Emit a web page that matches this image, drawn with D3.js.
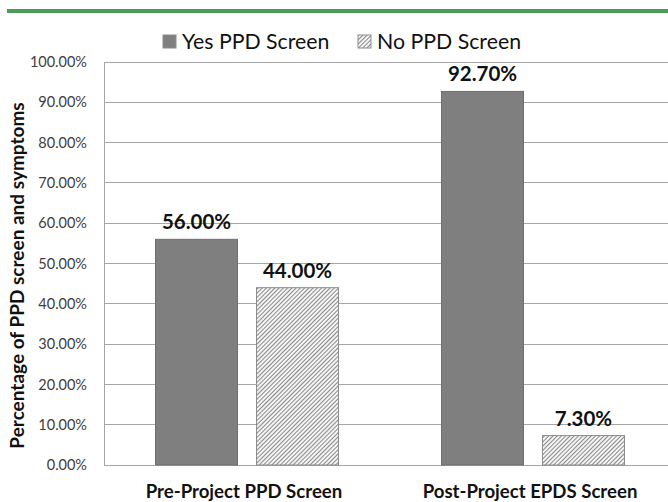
<!DOCTYPE html>
<html><head><meta charset="utf-8">
<script src="https://cdn.jsdelivr.net/npm/d3@7"></script>
<style>body{margin:0;background:#fff;}svg{display:block;font-family:Lato,"Open Sans",sans-serif;}</style>
</head><body>
<svg id="c" width="668" height="502"></svg>
<script>
const categories = ["Pre-Project PPD Screen", "Post-Project EPDS Screen"];
const seriesNames = ["Yes PPD Screen", "No PPD Screen"];
const yesValues = [56.0, 92.7];
const noValues = [44.0, 7.3];
const yTicks = [0,10,20,30,40,50,60,70,80,90,100];
const yTitle = "Percentage of PPD screen and symptoms";

const svg = d3.select("#c");
const defs = svg.append("defs");
const pat = defs.append("pattern").attr("id","hatch").attr("patternUnits","userSpaceOnUse")
  .attr("width",3).attr("height",3).attr("patternTransform","rotate(45)");
pat.append("rect").attr("width",3).attr("height",3).attr("fill","#f4f4f4");
pat.append("line").attr("x1",0.5).attr("y1",0).attr("x2",0.5).attr("y2",3).attr("stroke","#8a8a8a").attr("stroke-width",1);

// green top rule
svg.append("rect").attr("x",7).attr("y",9).attr("width",661).attr("height",4).attr("fill","#4f9a5b");

const m = {left:104, top:62, right:676, bottom:465};
const x0 = d3.scaleBand().domain(categories).range([m.left, m.right]).paddingInner(0).paddingOuter(0);
const x1 = d3.scaleBand().domain(seriesNames).range([0, x0.bandwidth()]).paddingInner(0.188).paddingOuter(0.51);
const y = d3.scaleLinear().domain([0,100]).range([m.bottom, m.top]);

// gridlines
svg.append("g").selectAll("line").data(yTicks).join("line")
  .attr("x1", m.left).attr("x2", 668).attr("y1", d=>y(d)).attr("y2", d=>y(d))
  .attr("stroke","#a6a6a6").attr("stroke-width",1).attr("shape-rendering","crispEdges");
// left axis line
svg.append("line").attr("x1",m.left).attr("x2",m.left).attr("y1",m.top).attr("y2",m.bottom)
  .attr("stroke","#a6a6a6").attr("shape-rendering","crispEdges");

// y tick labels
const yAxis = d3.axisLeft(y).tickValues(yTicks).tickSize(0).tickPadding(17).tickFormat(d=>d.toFixed(2)+"%");
const ga = svg.append("g").attr("transform",`translate(${m.left},0)`).call(yAxis);
ga.select(".domain").remove();
ga.selectAll("text").attr("font-size",14.5).attr("fill","#404040").attr("font-family","Lato,'Open Sans',sans-serif");

// y title
svg.append("text").attr("transform",`translate(24,${(m.top+m.bottom)/2 + 12}) rotate(-90)`)
  .attr("text-anchor","middle").attr("font-weight","bold").attr("font-size",19).attr("fill","#111")
  .text(yTitle);

const data = categories.map((c,i)=>({cat:c, vals:[{s:seriesNames[0],v:yesValues[i]},{s:seriesNames[1],v:noValues[i]}]}));
const g = svg.append("g").selectAll("g").data(data).join("g").attr("transform",d=>`translate(${x0(d.cat)},0)`);
g.selectAll("rect").data(d=>d.vals).join("rect")
  .attr("x",d=>x1(d.s)).attr("width",x1.bandwidth())
  .attr("y",d=>y(d.v)).attr("height",d=>y(0)-y(d.v))
  .attr("fill",d=>d.s===seriesNames[0]?"#7f7f7f":"url(#hatch)")
  .attr("stroke",d=>d.s===seriesNames[0]?"#6f6f6f":"#8c8c8c").attr("stroke-width",1);
g.selectAll("text").data(d=>d.vals).join("text")
  .attr("x",d=>x1(d.s)+x1.bandwidth()/2).attr("y",d=>y(d.v)-10)
  .attr("text-anchor","middle").attr("font-weight","bold").attr("font-size",20.5).attr("fill","#111")
  .text(d=>d.v.toFixed(2)+"%");

// category labels
svg.append("g").selectAll("text").data(categories).join("text")
  .attr("x",d=>x0(d)+x0.bandwidth()/2 - 3).attr("y",498)
  .attr("text-anchor","middle").attr("font-weight","bold").attr("font-size",18.6).attr("fill","#111")
  .text(d=>d);

// legend
const leg = [{s:seriesNames[0],x:163},{s:seriesNames[1],x:358}];
const lg = svg.append("g").selectAll("g").data(leg).join("g").attr("transform",d=>`translate(${d.x},35)`);
lg.append("rect").attr("width",13).attr("height",13)
  .attr("fill",d=>d.s===seriesNames[0]?"#7f7f7f":"url(#hatch)").attr("stroke","#8c8c8c");
lg.append("text").attr("x",19).attr("y",14).attr("font-size",21.3).attr("fill","#111").text(d=>d.s);
</script>
</body></html>
